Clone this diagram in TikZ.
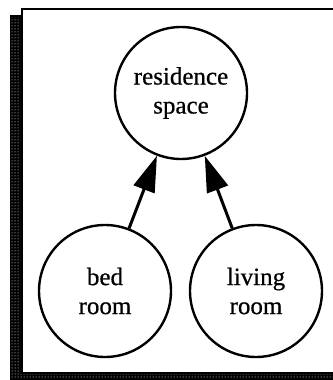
\documentclass[tikz,border=0pt]{standalone}
\usepackage{fontspec}
\setmainfont{Liberation Serif}[FakeBold=0.6]
\usetikzlibrary{arrows.meta,patterns}
\begin{document}
\begin{tikzpicture}[x=1pt,y=-1pt,
  room/.style={circle,draw,line width=2.4pt,minimum size=132pt,inner sep=0pt,
    align=center,font=\fontsize{25}{29}\selectfont},
  isa/.style={line width=3pt,-{Triangle[length=36pt,width=22pt]}},
  frameline/.style={line width=2.5pt,line cap=rect}]
\useasboundingbox (0,0) rectangle (332,380);
% dotted drop shadow along the left and bottom of the frame
\fill[black] (10,15) -- (22,15) -- (22,372) -- (334,372) -- (334,382) -- (10,382) -- cycle;
\fill[pattern=dots,pattern color=white] (11.5,17) -- (20.5,17) -- (20.5,374) -- (334,374) -- (334,378.5) -- (11.5,378.5) -- cycle;
% frame outline
\draw[frameline] (22,372) -- (22,9) -- (334,9);
% nodes
\node[room] (res) at (181,93) {residence\\space};
\node[room] (bed) at (105,291) {bed\\room};
\node[room] (liv) at (256,291) {living\\room};
% connectors
\draw[isa] (bed) -- (res);
\draw[isa] (liv) -- (res);
\end{tikzpicture}
\end{document}
